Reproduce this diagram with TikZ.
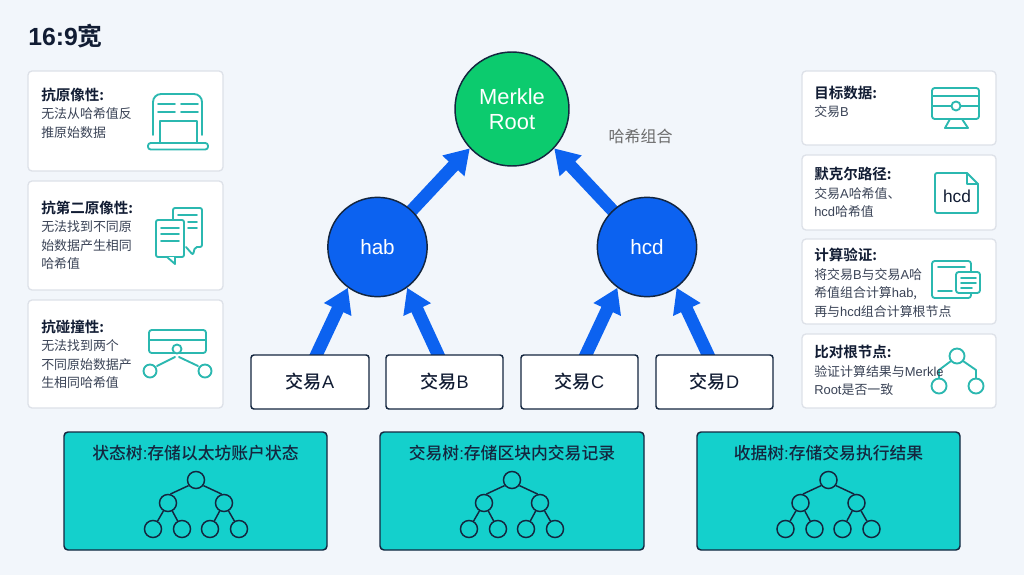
\documentclass[tikz,border=0pt]{standalone}
\usepackage{fontspec}
\setmainfont{Noto Sans CJK SC}[BoldFont={* Bold}]
\newfontfamily\med{Noto Sans CJK SC Medium}
\newfontfamily\lat{Liberation Sans}
\usetikzlibrary{arrows.meta,backgrounds}
\definecolor{bgc}{HTML}{F2F6FB}
\definecolor{inkc}{HTML}{111C33}
\definecolor{bodyc}{HTML}{3A4356}
\definecolor{bluec}{HTML}{0C62F0}
\definecolor{greenc}{HTML}{0CCB6E}
\definecolor{tealc}{HTML}{2BB8B0}
\definecolor{cyanc}{HTML}{14D0CC}
\definecolor{edgec}{HTML}{DDE1E8}
\definecolor{darkc}{HTML}{14263F}
\tikzset{
  cardbox/.style={draw=edgec,fill=white,line width=1pt,rounded corners=3pt,inner sep=0pt},
  txbox/.style={draw=darkc,fill=white,line width=1.1pt,rounded corners=2.2pt,inner sep=0pt,text=inkc,font=\med\fontsize{13.6pt}{15pt}\selectfont},
  treebox/.style={draw=darkc,fill=cyanc,line width=1.1pt,rounded corners=3pt,inner sep=0pt},
  cardtext/.style={anchor=north west,inner sep=0pt,align=left,text=bodyc,font=\fontsize{9.7pt}{13.9pt}\selectfont},
  treetitle/.style={inner sep=0pt,text=darkc,font=\med\fontsize{12.6pt}{15pt}\selectfont},
  hashnode/.style={circle,draw=darkc,fill=bluec,line width=1.1pt,minimum size=74.5pt,inner sep=0pt,text=white,font=\lat\fontsize{15.5pt}{18pt}\selectfont},
  rootnode/.style={circle,draw=darkc,fill=greenc,line width=1.1pt,minimum size=85.5pt,inner sep=0pt,text=white,align=center,font=\lat\fontsize{16.4pt}{18.6pt}\selectfont},
  flow/.style={bluec,line width=9.5pt,-{Triangle[width=21.5pt,length=18pt]},shorten <=-4pt},
  icon/.style={draw=tealc,line width=1.4pt,line join=round,line cap=round},
  treedot/.style={circle,draw=darkc,line width=1.1pt,minimum size=12.8pt,inner sep=0pt},
  treeline/.style={draw=darkc,line width=1.1pt},
}
\newcommand{\boxat}[6]{%
  \pgfmathsetlengthmacro{\bw}{(#5-#3)*0.75}%
  \pgfmathsetlengthmacro{\bh}{(#6-#4)*0.75}%
  \node[#1,minimum width=\bw,minimum height=\bh] (#2) at ({(#3+#5)/2},{(#4+#6)/2}) {};}
\newcommand{\txnode}[4]{%
  \pgfmathsetlengthmacro{\bw}{(#3-#2)*0.75}%
  \node[txbox,minimum width=\bw,minimum height=40.5pt] (#1) at ({(#2+#3)/2},382) {#4};}
\newcommand{\cardcopy}[5]{%
  \node[cardtext] (#1) at (#2,#3) {{\bfseries\color{inkc}\fontsize{10.9pt}{13.9pt}\selectfont #4}\\#5};}
\newcommand{\minitree}[2]{%
  \begin{scope}[shift={(#2,0)}]
    \node[treedot] (#1r) at (0,480) {};
    \node[treedot] (#1a) at (-28,503) {};
    \node[treedot] (#1b) at (28,503) {};
    \node[treedot] (#1c) at (-43,529) {};
    \node[treedot] (#1d) at (-14,529) {};
    \node[treedot] (#1e) at (14,529) {};
    \node[treedot] (#1f) at (43,529) {};
    \draw[treeline] (#1r.217)--(#1a.75) (#1r.323)--(#1b.105) (#1a)--(#1c) (#1a)--(#1d) (#1b)--(#1e) (#1b)--(#1f);
  \end{scope}}
\begin{document}
\begin{tikzpicture}[x=.75pt,y=-.75pt]
\useasboundingbox (0,0) rectangle (1024,575);
\begin{scope}[on background layer]
  \fill[bgc] (0,0) rectangle (1024,575);
\end{scope}
\node[anchor=west,inner sep=0pt,text=inkc,font=\bfseries\fontsize{18.6pt}{20pt}\selectfont] (heading) at (28,36) {{\lat\bfseries 16:9}宽};

% left cards
\boxat{cardbox}{c1}{28}{71}{223}{171}
\boxat{cardbox}{c2}{28}{181}{223}{290}
\boxat{cardbox}{c3}{28}{300}{223}{408}
% right cards
\boxat{cardbox}{d1}{802}{71}{996}{145}
\boxat{cardbox}{d2}{802}{155}{996}{230}
\boxat{cardbox}{d3}{802}{239}{996}{324}
\boxat{cardbox}{d4}{802}{334}{996}{408}

% icons, left
\draw[icon,rounded corners=6pt] (153,135) -- (153,94) -- (202,94) -- (202,135);
\draw[icon] (158,104)--(175,104) (181,104)--(198,104) (158,112)--(175,112) (181,112)--(198,112);
\draw[icon] (160,142)--(160,121)--(197,121)--(197,142);
\draw[icon,rounded corners=2pt] (148,143) rectangle (208,149.5);
\draw[icon,rounded corners=1.5pt] (173,220)--(173,208)--(202,208)--(202,247)--(195,247)--(193,255)--(186,247);
\draw[icon,fill=white,rounded corners=1.5pt] (156,220) rectangle (184,257);
\draw[icon,fill=white,line join=round] (167,257)--(175,264)--(175,257);
\draw[icon] (161,228)--(179,228) (161,234)--(179,234) (161,241)--(179,241);
\draw[icon] (178,215)--(197,215) (188,222)--(197,222) (188,228)--(197,228);
\draw[icon,rounded corners=2pt] (149,330) rectangle (206,353);
\draw[icon] (149,340)--(206,340);
\draw[icon,fill=white] (177,349) circle[radius=4.5];
\draw[icon] (150,371) circle[radius=6.5] (205,371) circle[radius=6.5];
\draw[icon] (157,366)--(175,357) (179,357)--(198,366);

% icons, right
\draw[icon,rounded corners=2pt] (932,88) rectangle (979,119);
\draw[icon] (932,96)--(979,96) (932,106)--(951,106) (961,106)--(979,106);
\draw[icon] (956,106) circle[radius=4.5];
\draw[icon] (950,119)--(945,128)--(968,128)--(962,119);
\draw[icon,rounded corners=1.5pt] (967,173)--(935,173)--(935,213)--(978,213)--(978,184);
\draw[icon] (967,173)--(978,184)--(967,184)--cycle;
\node[inner sep=0pt,text=inkc,font=\lat\fontsize{13pt}{14pt}\selectfont] (docname) at (957,196) {hcd};
\draw[icon,rounded corners=2pt] (932,261) rectangle (971,298);
\draw[icon] (938,267)--(965,267) (938,291)--(952,291);
\draw[icon,fill=white,rounded corners=2pt] (956,272) rectangle (980,293);
\draw[icon] (961,278)--(976,278) (961,283)--(976,283) (961,288)--(972,288);
\draw[icon] (957,356) circle[radius=7.5] (939,386) circle[radius=7.5] (976,386) circle[radius=7.5];
\draw[icon] (951,361)--(939,370)--(939,378) (963,361)--(976,370)--(976,378);

% card text
\cardcopy{t1}{41}{87.5}{抗原像性:}{无法从哈希值反\\推原始数据}
\cardcopy{t2}{41}{200.5}{抗第二原像性:}{无法找到不同原\\始数据产生相同\\哈希值}
\cardcopy{t3}{41}{319.5}{抗碰撞性:}{无法找到两个\\不同原始数据产\\生相同哈希值}
\cardcopy{u1}{814}{85.5}{目标数据:}{交易{\lat B}}
\cardcopy{u2}{814}{167}{默克尔路径:}{交易{\lat A}哈希值、\\{\lat hcd}哈希值}
\cardcopy{u3}{814}{248}{计算验证:}{将交易{\lat B}与交易{\lat A}哈\\希值组合计算{\lat hab},\\再与{\lat hcd}组合计算根节点}
\cardcopy{u4}{814}{345}{比对根节点:}{验证计算结果与{\lat Merkle}\\{\lat Root}是否一致}

% main tree
\node[rootnode] (root) at (512,109) {Merkle\\Root};
\node[hashnode] (hab) at (377.5,247) {hab};
\node[hashnode] (hcd) at (647,247) {hcd};
\txnode{ta}{251}{369}{交易{\lat A}}
\txnode{tb}{386}{503}{交易{\lat B}}
\txnode{tc}{521}{638}{交易{\lat C}}
\txnode{td}{656}{773}{交易{\lat D}}
\node[inner sep=0pt,text=black!58,font=\fontsize{12pt}{14pt}\selectfont] (hashlabel) at (640.5,136) {哈希组合};

\begin{scope}[on background layer]
  \draw[flow] (hab) -- (root.223);
  \draw[flow] (hcd) -- (root.317);
  \draw[flow] ([xshift=5pt]ta.north) -- (hab.234);
  \draw[flow] ([xshift=-5pt]tb.north) -- (hab.306);
  \draw[flow] ([xshift=5pt]tc.north) -- (hcd.234);
  \draw[flow] ([xshift=-5pt]td.north) -- (hcd.306);
\end{scope}

% bottom panels
\boxat{treebox}{p1}{64}{432}{327}{550}
\boxat{treebox}{p2}{380}{432}{644}{550}
\boxat{treebox}{p3}{697}{432}{960}{550}
\node[treetitle] (p1t) at (195.5,453) {状态树{\lat :}存储以太坊账户状态};
\node[treetitle] (p2t) at (512,453) {交易树{\lat :}存储区块内交易记录};
\node[treetitle] (p3t) at (828.5,453) {收据树{\lat :}存储交易执行结果};
\minitree{m}{196}
\minitree{n}{512}
\minitree{o}{828.5}
\end{tikzpicture}
\end{document}
